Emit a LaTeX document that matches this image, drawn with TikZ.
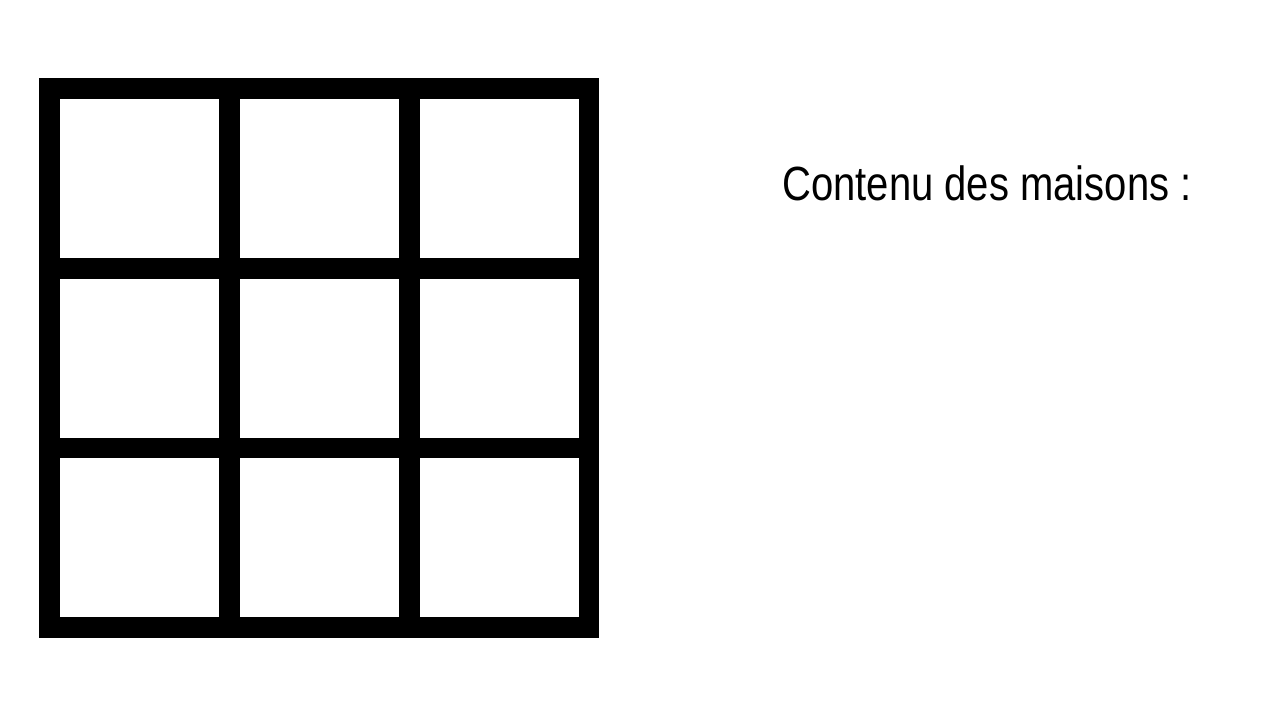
\documentclass[tikz,border=0pt]{standalone}
\usepackage{fontspec}
\setmainfont{Liberation Sans}
\usetikzlibrary{positioning}
\tikzset{
  board/.style={fill=black, minimum size=560pt, inner sep=0pt, anchor=north west},
  house/.style={fill=white, minimum width=159pt, minimum height=159pt, inner sep=0pt, anchor=north west},
  caption/.style={font=\fontsize{40}{48}\selectfont, inner sep=0pt, anchor=base}
}
\begin{document}
\begin{tikzpicture}[x=1pt, y=-1pt]
  \useasboundingbox[fill=white] (0,0) rectangle (1280,720);
  \node[board] (grid) at (39,78) {};
  \foreach \i in {0,1,2}
    \foreach \j in {0,1,2}
      \node[house] (house-\i-\j) at ({60+180*\i},{99+179.5*\j}) {};
  \node[caption] (title) at (987,200) {\scalebox{1}[1.2]{Contenu des maisons :}};
\end{tikzpicture}
\end{document}
